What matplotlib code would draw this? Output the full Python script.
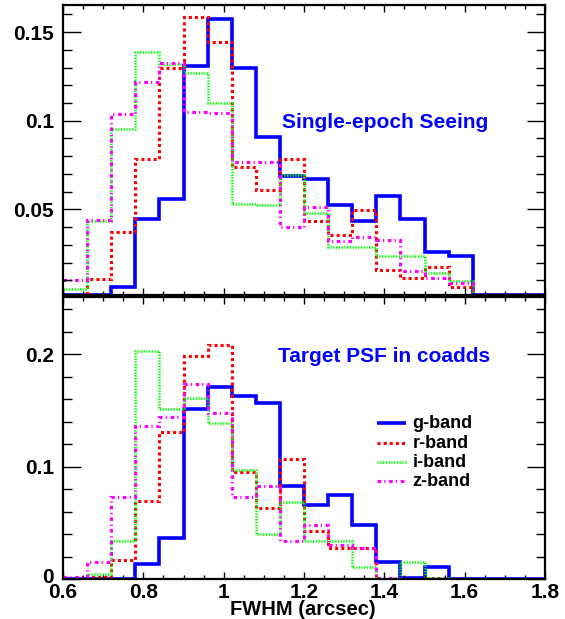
import numpy as np
import matplotlib
matplotlib.use("Agg")
import matplotlib.pyplot as plt
import matplotlib.transforms as mtransforms
from matplotlib.ticker import MultipleLocator, FuncFormatter

# FWHM bins: 20 bins of 0.06 arcsec from 0.6 to 1.8
bin_edges = np.round(np.linspace(0.6, 1.8, 21), 2)

band_labels = ["g-band", "r-band", "i-band", "z-band"]

# Normalised single-epoch seeing distributions
seeing_g = [0, 0, 0.0063, 0.0446, 0.0560, 0.1311, 0.1572, 0.1296, 0.0911, 0.0686,
            0.0671, 0.0526, 0.0436, 0.0575, 0.0446, 0.0258, 0.0239, 0, 0, 0]
seeing_r = [0, 0.0110, 0.0370, 0.0787, 0.1296, 0.1583, 0.1443, 0.0739, 0.0607, 0.0785,
            0.0436, 0.0354, 0.0494, 0.0160, 0.0112, 0.0176, 0.0063, 0, 0, 0]
seeing_i = [0.0052, 0.0432, 0.0954, 0.1386, 0.1320, 0.1271, 0.1099, 0.0530, 0.0526, 0.0695,
            0.0480, 0.0288, 0.0288, 0.0239, 0.0239, 0.0142, 0.0095, 0, 0, 0]
seeing_z = [0.0104, 0.0438, 0.1039, 0.1221, 0.1328, 0.1052, 0.1043, 0.0767, 0.0770, 0.0401,
            0.0511, 0.0324, 0.0342, 0.0329, 0.0155, 0.0114, 0.0086, 0, 0, 0]

# Normalised target PSF distributions in the coadds
coadd_g = [0, 0, 0, 0.0133, 0.0364, 0.1511, 0.1712, 0.1629, 0.1564, 0.0832,
           0.0660, 0.0749, 0.0483, 0.0157, 0.0015, 0.0107, 0, 0, 0, 0]
coadd_r = [0, 0.0016, 0.0172, 0.0696, 0.1312, 0.1985, 0.2083, 0.0956, 0.0636, 0.1069,
           0.0432, 0.0281, 0.0281, 0, 0, 0.0015, 0, 0, 0, 0]
coadd_i = [0, 0.0044, 0.0340, 0.2029, 0.1511, 0.1614, 0.1392, 0.0972, 0.0400, 0.0684,
           0.0340, 0.0340, 0.0109, 0, 0.0157, 0.0015, 0, 0, 0, 0]
coadd_z = [0.0016, 0.0157, 0.0735, 0.1357, 0.1440, 0.1733, 0.1476, 0.0735, 0.0832, 0.0340,
           0.0483, 0.0302, 0.0281, 0.0015, 0, 0, 0, 0, 0, 0]

panel_titles = ["Single-epoch Seeing", "Target PSF in coadds"]
x_label = "FWHM (arcsec)"

line_styles = [
    dict(color="#0000ff", linewidth=2.6, linestyle="-"),
    dict(color="#ff0000", linewidth=2.2, linestyle=(0, (1.0, 1.0))),
    dict(color="#00ff00", linewidth=1.8, linestyle=(0, (0.55, 0.55))),
    dict(color="#ff00ff", linewidth=2.2, linestyle=(0, (1.2, 1.0, 0.4, 1.2))),
]

FONT = "Liberation Sans"
plt.rcParams["font.family"] = [FONT, "DejaVu Sans"]
plt.rcParams["font.weight"] = "bold"

W, H = 565, 619
fig = plt.figure(figsize=(W / 100, H / 100), dpi=100)


def px_axes(x0, y0, x1, y1):
    return fig.add_axes([x0 / W, 1 - y1 / H, (x1 - x0) / W, (y1 - y0) / H])


ax_top = px_axes(63, 5, 545, 295)
ax_bot = px_axes(63, 297, 545, 579.3)

top_lim = (0.0017, 0.1653)
bot_lim = (0.0, 0.2507)


def style_axes(ax, ymajor, yminor, show_xlabels):
    ax.set_xlim(0.6, 1.8)
    ax.xaxis.set_major_locator(MultipleLocator(0.2))
    ax.xaxis.set_minor_locator(MultipleLocator(0.05))
    ax.yaxis.set_major_locator(MultipleLocator(ymajor))
    ax.yaxis.set_minor_locator(MultipleLocator(yminor))
    fmt = FuncFormatter(lambda v, p: "%g" % round(v, 4))
    ax.xaxis.set_major_formatter(fmt)
    ax.yaxis.set_major_formatter(fmt)
    ax.tick_params(axis="both", which="both", direction="in",
                   top=True, right=True, width=1.0, color="black")
    ax.tick_params(axis="x", which="major", length=5, pad=2.5, labelsize=15)
    ax.tick_params(axis="x", which="minor", length=2.7)
    ax.tick_params(axis="y", which="major", length=13, pad=6.5, labelsize=15)
    ax.tick_params(axis="y", which="minor", length=6.5)
    if not show_xlabels:
        ax.tick_params(axis="x", labelbottom=False)
    for sp in ax.spines.values():
        sp.set_linewidth(1.6)
        sp.set_zorder(5)


top_series = [seeing_g, seeing_r, seeing_i, seeing_z]
bot_series = [coadd_g, coadd_r, coadd_i, coadd_z]

for vals, st in zip(top_series, line_styles):
    # empty bins are drawn along the lower frame edge
    ax_top.stairs(np.maximum(np.asarray(vals, float), top_lim[0]), bin_edges,
                  baseline=None, fill=False, **st)
for vals, st in zip(bot_series, line_styles):
    ax_bot.stairs(np.asarray(vals, float), bin_edges,
                  baseline=None, fill=False, **st)

ax_top.set_ylim(*top_lim)
ax_bot.set_ylim(*bot_lim)
style_axes(ax_top, 0.05, 0.01, False)
style_axes(ax_bot, 0.1, 0.02, True)

title_kw = dict(color="#0000ff", fontsize=15, fontweight="bold", va="baseline", ha="left")
ax_top.text(0.4537, 0.575, panel_titles[0], transform=ax_top.transAxes, **title_kw)
ax_bot.text(0.4467, 0.7708, panel_titles[1], transform=ax_bot.transAxes, **title_kw)

# band key inside the lower panel
row_step = 0.0687
for k, (lab, st) in enumerate(zip(band_labels, line_styles)):
    yc = 0.5526 - k * row_step
    ax_bot.plot([0.651, 0.711], [yc, yc], transform=ax_bot.transAxes,
                solid_capstyle="butt", **st)
    ax_bot.text(0.7255, 0.535 - k * row_step, lab, transform=ax_bot.transAxes,
                fontsize=13, fontweight="bold", va="baseline", ha="left")

fig.text(302.5 / W, 1 - 615 / H, x_label, fontsize=14.5, fontweight="bold",
         ha="center", va="baseline")

# lift the "0" label of the lower panel a little so it sits above "0.6"
fig.canvas.draw()
lift = mtransforms.ScaledTranslation(0, 2.5 / 72, fig.dpi_scale_trans)
for tick in ax_bot.yaxis.get_major_ticks():
    if abs(tick.get_loc()) < 1e-9:
        tick.label1.set_transform(tick.label1.get_transform() + lift)

fig.savefig("out.png", dpi=100)
